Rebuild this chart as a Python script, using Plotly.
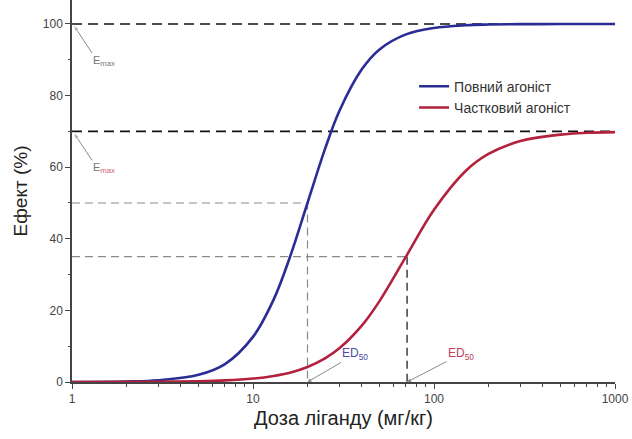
import numpy as np
import plotly.graph_objects as go

# Data
dose = [1, 2, 3, 5, 7, 10, 13, 16, 20, 25, 30, 40, 50, 70, 100, 150, 200, 300, 500, 700, 1000]
full_agonist = [0.02, 0.16, 0.5, 2.0, 5.0, 12.6, 23.0, 34.9, 50.0, 65.1, 75.7, 87.4, 92.9, 97.1,
                98.9, 99.65, 99.84, 99.95, 99.99, 100.0, 100.0]
partial_agonist = [0.01, 0.03, 0.07, 0.21, 0.44, 0.96, 1.7, 2.6, 4.2, 6.6, 9.4, 15.8, 22.6, 35.0,
                   48.1, 59.0, 63.7, 67.3, 69.1, 69.6, 69.8]
emax_full = 100
emax_partial = 70
ed50_full = 20
ed50_partial = 71
half_full = 50
half_partial = 35

x_ticks = [1, 10, 100, 1000]
y_ticks = [0, 20, 40, 60, 80, 100]

blue = "#2b2d97"
red = "#b3213c"
grey = "#8a8a8a"

# plot geometry (used only to size the short E_max pointer lines)
Y_MAX = 106.7
PLOT_W, PLOT_H = 543, 382
px_decade = PLOT_W / 3.0
px_unit = PLOT_H / Y_MAX

fig = go.Figure()

# Reference dashed lines
fig.add_trace(go.Scatter(x=[1, 1000], y=[emax_full, emax_full], mode="lines",
                         line=dict(color="#111111", width=1.6, dash="10px,6px"),
                         showlegend=False, hoverinfo="skip"))
fig.add_trace(go.Scatter(x=[1, 1000], y=[emax_partial, emax_partial], mode="lines",
                         line=dict(color="#111111", width=1.6, dash="10px,6px"),
                         showlegend=False, hoverinfo="skip"))
fig.add_trace(go.Scatter(x=[1, ed50_full, ed50_full], y=[half_full, half_full, 0], mode="lines",
                         line=dict(color=grey, width=1.2, dash="8px,5px"),
                         showlegend=False, hoverinfo="skip"))
fig.add_trace(go.Scatter(x=[1, ed50_partial], y=[half_partial, half_partial], mode="lines",
                         line=dict(color=grey, width=1.2, dash="8px,5px"),
                         showlegend=False, hoverinfo="skip"))
fig.add_trace(go.Scatter(x=[ed50_partial, ed50_partial], y=[half_partial, 0], mode="lines",
                         line=dict(color="#333333", width=1.4, dash="8px,5px"),
                         showlegend=False, hoverinfo="skip"))

# E_max pointer lines (tail -> head on the axis)
for level in (emax_full, emax_partial):
    tail_x = 10 ** (20 / px_decade)
    tail_y = level - 29 / px_unit
    head_x = 10 ** (1.5 / px_decade)
    fig.add_trace(go.Scatter(x=[tail_x, head_x], y=[tail_y, level - 1 / px_unit],
                             mode="lines+markers",
                             line=dict(color=grey, width=1),
                             marker=dict(symbol="arrow", size=[0, 7], angleref="previous", color=grey),
                             showlegend=False, hoverinfo="skip", cliponaxis=False))

# Curves
fig.add_trace(go.Scatter(x=dose, y=full_agonist, mode="lines", name="Повний агоніст",
                         line=dict(color=blue, width=2.6, shape="spline", smoothing=1.0)))
fig.add_trace(go.Scatter(x=dose, y=partial_agonist, mode="lines", name="Частковий агоніст",
                         line=dict(color=red, width=2.6, shape="spline", smoothing=1.0)))

ann_font = dict(family="Liberation Sans, Arial, sans-serif", size=11, color="#777777")
annotations = [
    dict(x=0, y=emax_full, xref="x", yref="y", text="E<sub>max</sub>",
         showarrow=False, xshift=32, yshift=-37, xanchor="center", yanchor="middle", font=ann_font),
    dict(x=0, y=emax_partial, xref="x", yref="y",
         text="E<sub><span style='color:#d06070'>max</span></sub>",
         showarrow=False, xshift=32, yshift=-37, xanchor="center", yanchor="middle", font=ann_font),
    dict(x=np.log10(ed50_full), y=0, xref="x", yref="y", text="ED<sub>50</sub>",
         showarrow=True, arrowhead=2, arrowsize=0.8, arrowwidth=1, arrowcolor=grey,
         ax=48, ay=-28, font=dict(family="Liberation Sans, Arial, sans-serif", size=12, color="#4a4aa8")),
    dict(x=np.log10(ed50_partial), y=0, xref="x", yref="y", text="ED<sub>50</sub>",
         showarrow=True, arrowhead=2, arrowsize=0.8, arrowwidth=1, arrowcolor=grey,
         ax=54, ay=-28, font=dict(family="Liberation Sans, Arial, sans-serif", size=12, color="#c04060")),
]

fig.update_layout(
    width=632, height=439,
    margin=dict(l=72, r=17, t=0, b=57),
    paper_bgcolor="white", plot_bgcolor="white",
    font=dict(family="Liberation Sans, Arial, sans-serif", color="#333333"),
    annotations=annotations,
    legend=dict(x=0.63, y=0.815, xanchor="left", yanchor="top",
                bgcolor="rgba(0,0,0,0)", font=dict(size=14, color="#333333"),
                tracegroupgap=0, itemwidth=30),
    showlegend=True,
)

fig.update_xaxes(type="log", range=[0, 3], tickvals=x_ticks, ticktext=[str(v) for v in x_ticks],
                 showgrid=False, zeroline=False, showline=True, linecolor="#444444", linewidth=1.5,
                 ticks="outside", ticklen=5, tickcolor="#444444", tickfont=dict(size=12, color="#444444"),
                 minor=dict(ticks="outside", ticklen=3, tickcolor="#444444", dtick="D1", showgrid=False),
                 title=dict(text="Доза ліганду (мг/кг)", font=dict(size=20, color="#222222"), standoff=6))
fig.update_yaxes(range=[0, Y_MAX], tickvals=y_ticks, showgrid=False, zeroline=False,
                 showline=True, linecolor="#444444", linewidth=1.5,
                 ticks="outside", ticklen=5, tickcolor="#444444", tickfont=dict(size=12, color="#444444"),
                 minor=dict(ticks="outside", ticklen=2, tickcolor="#444444", dtick=10, showgrid=False),
                 title=dict(text="Ефект (%)", font=dict(size=19, color="#222222"), standoff=10))

fig.write_html("out.html")
